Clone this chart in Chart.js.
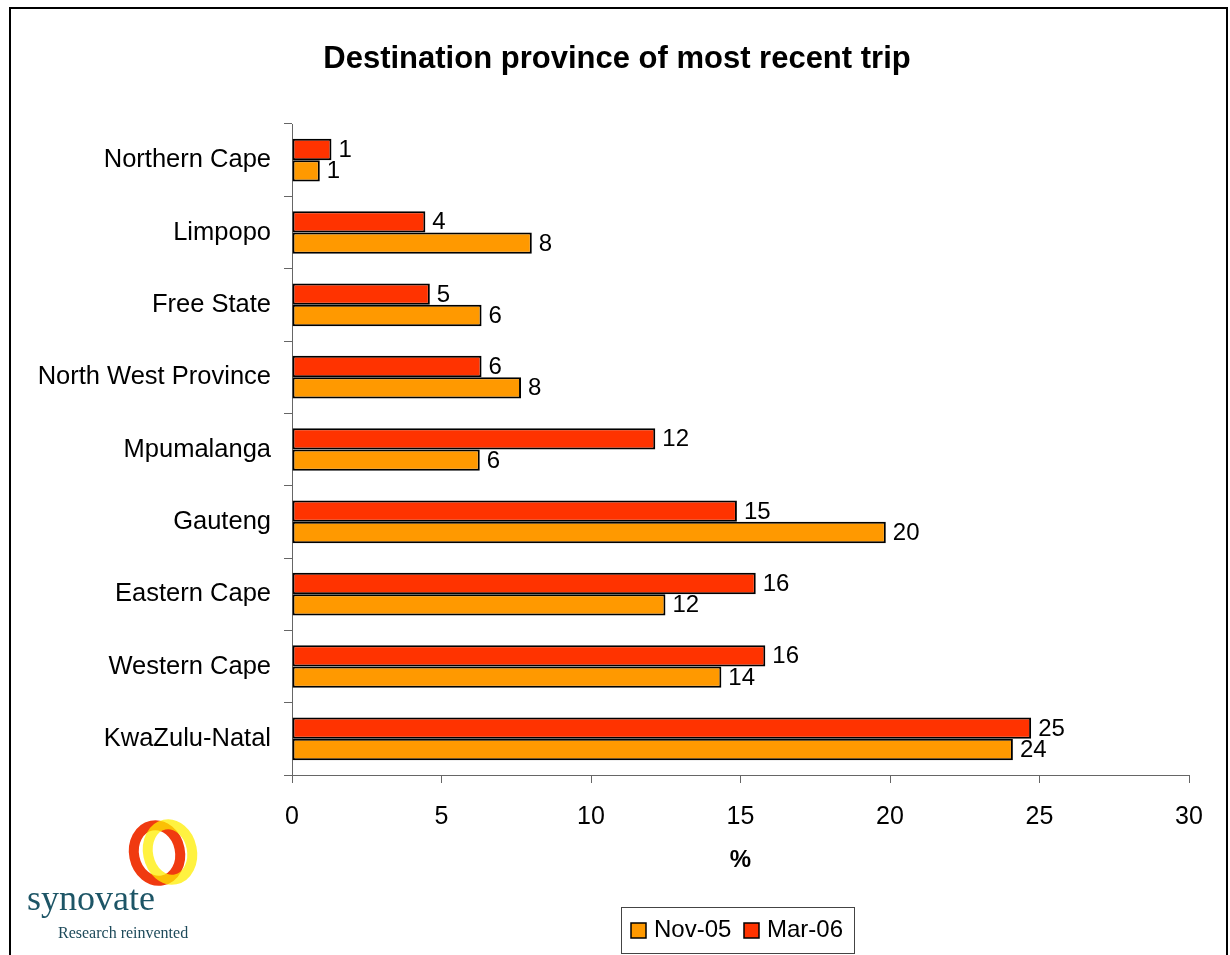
<!DOCTYPE html>
<html>
<head>
<meta charset="utf-8">
<title>Destination province of most recent trip</title>
<script src="https://cdn.jsdelivr.net/npm/chart.js@4"></script>
<style>
  body { margin: 0; background: #fff; }
  #wrap { width: 1230px; height: 955px; }
</style>
</head>
<body>
<div id="wrap"><canvas id="chart" width="1230" height="955"></canvas></div>
<script>
// categories, top to bottom
const provinces = [
  "Northern Cape", "Limpopo", "Free State", "North West Province",
  "Mpumalanga", "Gauteng", "Eastern Cape", "Western Cape", "KwaZulu-Natal"
];
// percentages (labels show them rounded)
const nov05 = [0.93, 8.02, 6.34, 7.66, 6.28, 19.86, 12.49, 14.36, 24.11];
const mar06 = [1.32, 4.46, 4.61, 6.34, 12.15, 14.88, 15.51, 15.83, 24.72];
const seriesNames = ["Nov-05", "Mar-06"];
const xMin = 0, xMax = 30, xStep = 5;

const NOV_COLOR = "#FF9900";
const MAR_COLOR = "#FF3300";
const FONT = "'Liberation Sans', Arial, sans-serif";

// numbers at the end of each bar
const valueLabels = {
  id: "valueLabels",
  afterDatasetsDraw(chart) {
    const ctx = chart.ctx;
    ctx.save();
    ctx.font = "24px " + FONT;
    ctx.fillStyle = "#000";
    ctx.textAlign = "left";
    ctx.textBaseline = "middle";
    chart.data.datasets.forEach((ds, i) => {
      chart.getDatasetMeta(i).data.forEach((bar, j) => {
        ctx.fillText(Math.round(ds.data[j]), bar.x + 7, bar.y + 1);
      });
    });
    ctx.restore();
  }
};

// frame, title, axis title, legend box and logo
const decor = {
  id: "decor",
  afterDraw(chart) {
    const ctx = chart.ctx;
    const area = chart.chartArea;
    ctx.save();

    ctx.strokeStyle = "#000";
    ctx.lineWidth = 2;
    ctx.strokeRect(10, 8, 1217, 970);

    ctx.fillStyle = "#000";
    ctx.textAlign = "center";
    ctx.textBaseline = "middle";
    ctx.font = "bold 31px " + FONT;
    ctx.fillText("Destination province of most recent trip", 617, 59);

    ctx.font = "bold 24px " + FONT;
    ctx.fillText("%", (area.left + area.right) / 2, 860);

    // legend
    ctx.lineWidth = 1;
    ctx.strokeStyle = "#444";
    ctx.strokeRect(621.5, 907.5, 233, 46);
    const items = [
      { name: seriesNames[0], color: NOV_COLOR, x: 631 },
      { name: seriesNames[1], color: MAR_COLOR, x: 744 }
    ];
    ctx.textAlign = "left";
    ctx.font = "24px " + FONT;
    items.forEach(it => {
      ctx.fillStyle = it.color;
      ctx.fillRect(it.x, 923, 15, 15);
      ctx.lineWidth = 1.5;
      ctx.strokeStyle = "#000";
      ctx.strokeRect(it.x, 923, 15, 15);
      ctx.fillStyle = "#000";
      ctx.fillText(it.name, it.x + 23, 930);
    });

    // synovate logo
    ctx.lineWidth = 10;
    ctx.strokeStyle = "#F03A10";
    ctx.beginPath();
    ctx.ellipse(157, 853, 23, 28, -0.2, 0, Math.PI * 2);
    ctx.stroke();
    ctx.globalAlpha = 0.75;
    ctx.strokeStyle = "#FFEE00";
    ctx.beginPath();
    ctx.ellipse(170, 852, 22, 28, -0.2, 0, Math.PI * 2);
    ctx.stroke();
    ctx.globalAlpha = 1;
    ctx.fillStyle = "#1d5566";
    ctx.font = "36px 'Liberation Serif', serif";
    ctx.textBaseline = "alphabetic";
    ctx.fillText("synovate", 27, 910);
    ctx.fillStyle = "#1d4a5a";
    ctx.font = "16px 'Liberation Serif', serif";
    ctx.fillText("Research reinvented", 58, 938);

    ctx.restore();
  }
};

new Chart(document.getElementById("chart"), {
  type: "bar",
  data: {
    labels: provinces,
    datasets: [
      {
        label: seriesNames[1],
        data: mar06,
        backgroundColor: MAR_COLOR,
        borderColor: "#000",
        borderWidth: 2,
        borderSkipped: false,
        categoryPercentage: 0.59,
        barPercentage: 1
      },
      {
        label: seriesNames[0],
        data: nov05,
        backgroundColor: NOV_COLOR,
        borderColor: "#000",
        borderWidth: 2,
        borderSkipped: false,
        categoryPercentage: 0.59,
        barPercentage: 1
      }
    ]
  },
  options: {
    indexAxis: "y",
    responsive: false,
    animation: false,
    layout: { padding: { top: 124, right: 41, left: 0, bottom: 0 } },
    plugins: {
      legend: { display: false },
      title: { display: false },
      tooltip: { enabled: false }
    },
    scales: {
      x: {
        min: xMin,
        max: xMax,
        ticks: { stepSize: xStep, color: "#000", padding: 19, font: { size: 25, family: FONT } },
        grid: { drawOnChartArea: false, drawTicks: true, tickLength: 8, color: "#666" },
        border: { display: true, color: "#666", width: 1 },
        afterFit(scale) { scale.height = 180; }
      },
      y: {
        ticks: { color: "#000", padding: 13, font: { size: 25.5, family: FONT } },
        grid: { drawOnChartArea: false, drawTicks: true, tickLength: 8, color: "#666", offset: true },
        border: { display: true, color: "#666", width: 1 },
        afterFit(scale) { scale.width = 292; }
      }
    }
  },
  plugins: [valueLabels, decor]
});
</script>
</body>
</html>
